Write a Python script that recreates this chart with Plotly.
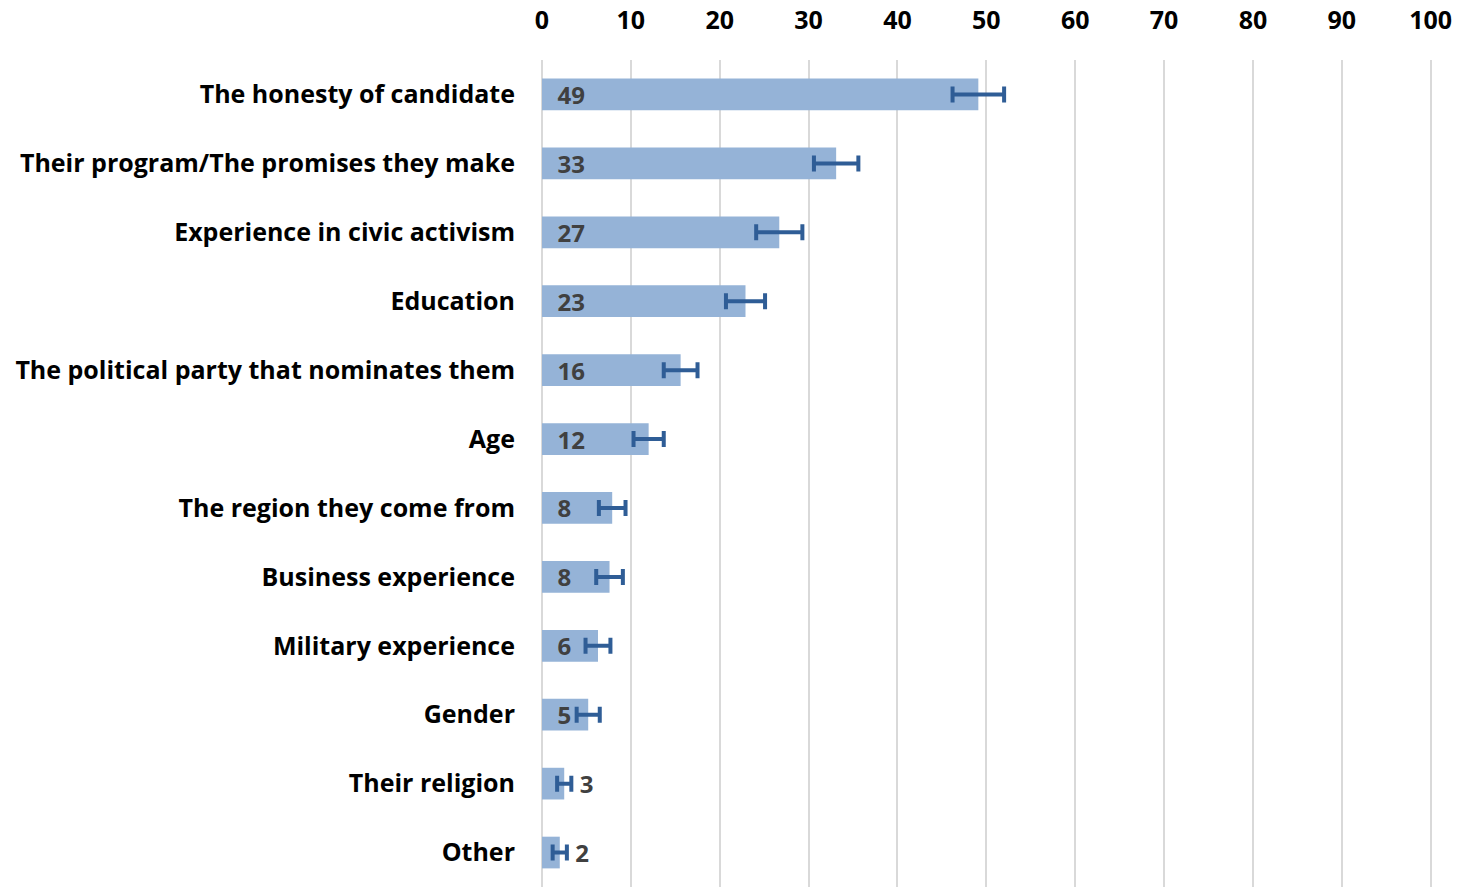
"""Horizontal bar chart: what matters when choosing a candidate."""

import plotly.graph_objects as go

categories = [
    "The honesty of candidate",
    "Their program/The promises they make",
    "Experience in civic activism",
    "Education",
    "The political party that nominates them",
    "Age",
    "The region they come from",
    "Business experience",
    "Military experience",
    "Gender",
    "Their religion",
    "Other",
]
values = [49.1, 33.1, 26.7, 22.9, 15.6, 12.0, 7.9, 7.6, 6.3, 5.2, 2.5, 2.0]
labels = ["49", "33", "27", "23", "16", "12", "8", "8", "6", "5", "3", "2"]
errors = [2.9, 2.5, 2.6, 2.2, 1.9, 1.7, 1.5, 1.5, 1.4, 1.3, 0.8, 0.8]
tick_values = [0, 10, 20, 30, 40, 50, 60, 70, 80, 90, 100]

FONT = "Open Sans, Calibri, Arial, sans-serif"
BAR_COLOR = "#95B3D7"
ERR_COLOR = "#2F5D96"
GRID_COLOR = "#D9D9D9"

positions = ["inside" if v >= 4 else "outside" for v in values]

fig = go.Figure(
    go.Bar(
        y=categories,
        x=values,
        orientation="h",
        marker={"color": BAR_COLOR, "line": {"width": 0}},
        text=labels,
        texttemplate="\u00a0\u00a0%{text}",
        textposition=positions,
        insidetextanchor="start",
        textangle=0,
        constraintext="none",
        textfont={"family": FONT, "size": 24, "color": "#404040", "weight": "bold"},
        cliponaxis=False,
        error_x={
            "type": "data",
            "array": errors,
            "symmetric": True,
            "color": ERR_COLOR,
            "thickness": 4,
            "width": 8,
        },
        hovertemplate="<b>%{y}</b><br>%{x}<extra></extra>",
    )
)

fig.update_layout(
    width=1463,
    height=887,
    plot_bgcolor="white",
    paper_bgcolor="white",
    bargap=0.54,
    showlegend=False,
    margin={"l": 542, "r": 31, "t": 60, "b": 0},
    font={"family": FONT, "color": "black"},
)
# range runs a hair past 100 so the last gridline is drawn
fig.update_xaxes(
    side="top",
    range=[0, 100.15],
    tickvals=tick_values,
    showgrid=True,
    gridcolor=GRID_COLOR,
    gridwidth=1.5,
    zeroline=True,
    zerolinecolor=GRID_COLOR,
    zerolinewidth=1.5,
    showline=False,
    ticks="",
    ticklabelstandoff=25,
    tickfont={"family": FONT, "size": 25, "color": "black", "weight": "bold"},
)
fig.update_yaxes(
    autorange="reversed",
    showgrid=False,
    showline=False,
    ticks="",
    ticklabelstandoff=26,
    tickfont={"family": FONT, "size": 25, "color": "black", "weight": "bold"},
)

fig.write_html(
    "out.html",
    config={"displayModeBar": False},
    post_script="document.body.style.margin='0';",
)
